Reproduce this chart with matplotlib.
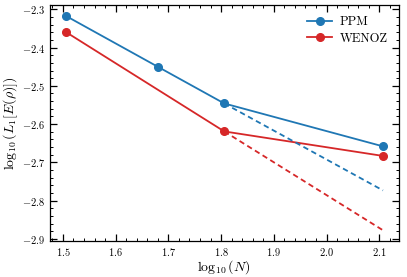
"""
Convergence of L1 error, PPM vs WENOZ
"""

import matplotlib
matplotlib.use('Agg')
import matplotlib.pyplot as plt
from matplotlib.ticker import AutoMinorLocator

plt.rcParams['font.family'] = 'serif'
plt.rcParams['font.serif'] = ['cmr10', 'DejaVu Serif']
plt.rcParams['mathtext.fontset'] = 'cm'
plt.rcParams['axes.formatter.use_mathtext'] = True
plt.rcParams['font.size'] = 8

# log10 of resolution
PPM_X = [1.505, 1.681, 1.806, 2.107]
PPM_Y = [-2.317, -2.451, -2.546, -2.658]
WENOZ_X = [1.505, 1.806, 2.107]
WENOZ_Y = [-2.359, -2.619, -2.683]

# extrapolated trends (dashed)
PPM_EXT_X = [1.806, 2.107]
PPM_EXT_Y = [-2.546, -2.773]
WENOZ_EXT_X = [1.806, 2.107]
WENOZ_EXT_Y = [-2.619, -2.877]

BLUE = '#1f77b4'
RED = '#d62728'

fig, ax = plt.subplots(1, 1, figsize=(4.07, 2.77), dpi=100)
fig.subplots_adjust(left=0.122, right=0.98, bottom=0.13, top=0.982)

ax.plot(PPM_X, PPM_Y, c=BLUE, marker='o', ms=5.5, lw=1.3, label='PPM')
ax.plot(WENOZ_X, WENOZ_Y, c=RED, marker='o', ms=5.5, lw=1.3, label='WENOZ')
ax.plot(PPM_EXT_X, PPM_EXT_Y, c=BLUE, ls='--', lw=1.3, dashes=(3, 2))
ax.plot(WENOZ_EXT_X, WENOZ_EXT_Y, c=RED, ls='--', lw=1.3, dashes=(3, 2))

ax.set_xlabel(r'$\log_{10}(N)$', fontsize=10, labelpad=0)
ax.set_ylabel(r'$\log_{10}(L_1[E(\rho)])$', fontsize=10, labelpad=1)

ax.xaxis.set_minor_locator(AutoMinorLocator(5))
ax.yaxis.set_minor_locator(AutoMinorLocator(5))
ax.tick_params(which='both', direction='in', top=True, right=True, labelsize=7.5)
ax.tick_params(which='major', length=5, width=0.9)
ax.tick_params(which='minor', length=2.5, width=0.7)
for s in ax.spines.values():
    s.set_linewidth(0.9)

ax.legend(loc='upper right', frameon=False, fontsize=9, handlelength=2.0,
          labelspacing=0.35, handletextpad=0.6)

fig.savefig('out.png', dpi=100)
